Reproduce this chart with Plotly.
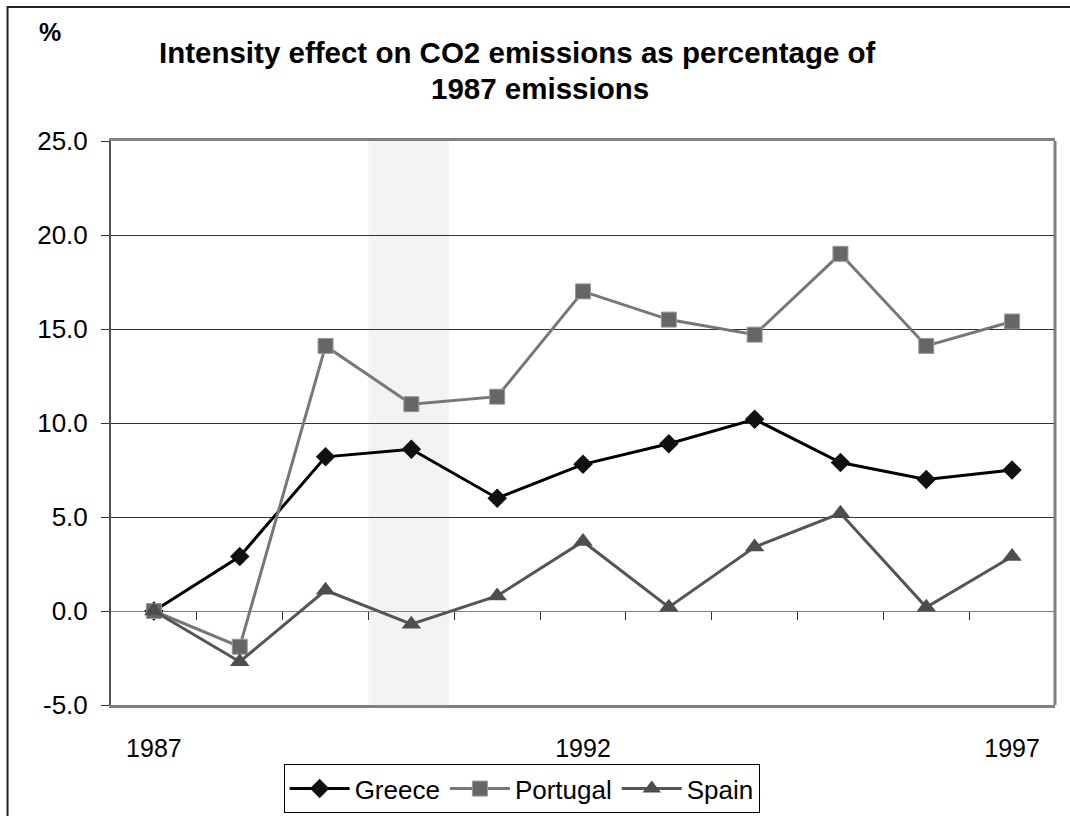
import plotly.graph_objects as go

YEARS = [1987, 1988, 1989, 1990, 1991, 1992, 1993, 1994, 1995, 1996, 1997]
GREECE = [0.0, 2.9, 8.2, 8.6, 6.0, 7.8, 8.9, 10.2, 7.9, 7.0, 7.5]
PORTUGAL = [0.0, -1.9, 14.1, 11.0, 11.4, 17.0, 15.5, 14.7, 19.0, 14.1, 15.4]
SPAIN = [0.0, -2.7, 1.1, -0.7, 0.8, 3.7, 0.2, 3.4, 5.2, 0.2, 2.9]

X_TICKS = [1987, 1992, 1997]
Y_TICKS = [-5, 0, 5, 10, 15, 20, 25]
Y_TICK_TEXT = ["-5.0", "0.0", "5.0", "10.0", "15.0", "20.0", "25.0"]
BAND = [1989.5, 1990.44]

FONT = "Arial, 'Liberation Sans', sans-serif"

fig = go.Figure()
fig.add_trace(go.Scatter(
    x=YEARS, y=GREECE, name="Greece", mode="lines+markers",
    line=dict(color="#000000", width=3),
    marker=dict(symbol="diamond", size=15, color="#111111"),
))
fig.add_trace(go.Scatter(
    x=YEARS, y=PORTUGAL, name="Portugal", mode="lines+markers",
    line=dict(color="#777777", width=3),
    marker=dict(symbol="square", size=15, color="#666666", line=dict(color="#999999", width=1)),
))
fig.add_trace(go.Scatter(
    x=YEARS, y=SPAIN, name="Spain", mode="lines+markers",
    line=dict(color="#555555", width=3),
    marker=dict(symbol="triangle-up", size=17, color="#4d4d4d"),
))
# helper trace so the tick-mark axis at y=0 is drawn
fig.add_trace(go.Scatter(x=[YEARS[0]], y=[None], xaxis="x2", showlegend=False,
                         hoverinfo="skip", mode="markers"))

x_range = [YEARS[0] - 0.5, YEARS[-1] + 0.5]

fig.update_layout(
    width=1070, height=816,
    margin=dict(l=111, r=15, t=141, b=111, autoexpand=False),
    paper_bgcolor="white", plot_bgcolor="white",
    font=dict(family=FONT, size=26, color="#000000"),
    showlegend=True,
    legend=dict(orientation="h", x=0.435, y=-0.105, xanchor="center", yanchor="top",
                bordercolor="#000000", borderwidth=1, bgcolor="white",
                font=dict(size=26), itemwidth=60, tracegroupgap=0),
    xaxis=dict(range=x_range, tickvals=X_TICKS, ticktext=[str(v) for v in X_TICKS],
               showgrid=False, zeroline=False, showline=True, linecolor="#808080",
               linewidth=3, mirror=True, ticks="outside", ticklen=19,
               tickcolor="rgba(0,0,0,0)", tickfont=dict(size=25)),
    xaxis2=dict(range=x_range, overlaying="x", anchor="free", position=1/6, side="bottom",
                tickvals=[y + 0.5 for y in YEARS[:-1]], ticks="outside", ticklen=8,
                tickcolor="#333333", tickwidth=1, showticklabels=False,
                showgrid=False, zeroline=False, showline=False),
    yaxis=dict(range=[-5, 25], tickvals=Y_TICKS, ticktext=Y_TICK_TEXT,
               showgrid=True, gridcolor="#333333", gridwidth=1,
               zeroline=True, zerolinecolor="#808080", zerolinewidth=1,
               showline=True, linecolor="#505050", linewidth=2, mirror=False,
               ticks="outside", ticklen=8, tickcolor="#333333",
               ticklabelstandoff=8, tickfont=dict(size=26)),
    shapes=[
        dict(type="rect", xref="x", yref="paper", x0=BAND[0], x1=BAND[1], y0=0, y1=1,
             fillcolor="#f3f3f3", line=dict(width=0), layer="below"),
        dict(type="line", xref="paper", yref="paper", x0=1, x1=1, y0=0, y1=1,
             line=dict(color="#808080", width=3), layer="above"),
        dict(type="rect", xref="paper", yref="paper", x0=-0.1096, x1=1.1, y0=-0.25, y1=1.2376,
             line=dict(color="#222222", width=2), fillcolor="rgba(0,0,0,0)", layer="above"),
    ],
    annotations=[
        dict(text="<b>Intensity effect on CO2 emissions as percentage of</b>", xref="paper", yref="paper",
             x=0.4301, y=1.1578, xanchor="center", yanchor="middle", showarrow=False,
             font=dict(size=29.5)),
        dict(text="<b>1987 emissions</b>", xref="paper", yref="paper",
             x=0.4545, y=1.0922, xanchor="center", yanchor="middle", showarrow=False,
             font=dict(size=29.5)),
        dict(text="<b>%</b>", xref="paper", yref="paper",
             x=-0.0646, y=1.1933, xanchor="center", yanchor="middle", showarrow=False,
             font=dict(size=25)),
    ],
)

fig.write_html("out.html")
